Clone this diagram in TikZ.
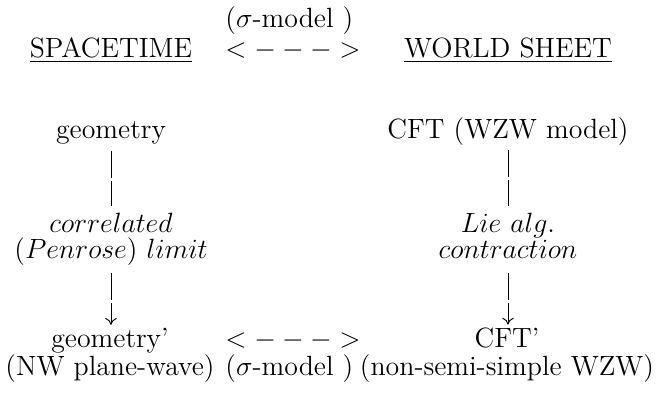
\documentclass[tikz,border=0pt]{standalone}
\usepackage{amsmath}
\usepackage{tikz}
\usetikzlibrary{arrows.meta, positioning, calc}

\begin{document}
\begin{tikzpicture}[x=0.431pt, y=-0.431pt]
\tikzstyle{txt}=[font=\fontsize{12}{14}\selectfont, inner sep=0pt, anchor=base]
\tikzstyle{bar}=[line width=0.4pt, dash pattern=on 11.64pt off 1.29pt]
\tikzstyle{arrow}=[bar, -{To[length=3pt, width=5pt]}, shorten >=1pt]

\useasboundingbox (0,0) rectangle (665,393);

\node[txt, anchor=base west] (sigmaTop) at (225,27) {($\sigma$-model )};
\node[txt] (spacetime) at (111,57) {\underline{SPACETIME}};
\node[txt, anchor=base west] (dualTop) at (225,57) {$<--->$};
\node[txt] (worldsheet) at (508,57) {\underline{WORLD SHEET}};

\node[txt] (geometry) at (111,138) {geometry};
\node[txt] (cft) at (508,138) {CFT (WZW model)};

\node[txt] (correlated) at (111,232) {$correlated$};
\node[txt] (penrose) at (111,258) {$(Penrose)\ limit$};
\node[txt] (lie) at (508,232) {$Lie\ alg.$};
\node[txt] (contraction) at (508,258) {$contraction$};

\node[txt] (geometryP) at (110,347) {geometry'};
\node[txt, anchor=base west] (dualBot) at (225,347) {$<--->$};
\node[txt] (cftP) at (507,347) {CFT'};
\node[txt] (planewave) at (110,375) {(NW plane-wave)};
\node[txt, anchor=base west] (sigmaBot) at (225,375) {($\sigma$-model )};
\node[txt] (nonsemi) at (507,375) {(non-semi-simple WZW)};

\draw[bar, shorten <=2.85pt, shorten >=2.46pt] (geometry.south) -- (geometry.south |- correlated.north);
\draw[arrow, shorten <=3.45pt] (penrose.south -| geometry) -- (geometryP.north -| geometry);
\draw[bar, shorten <=2.15pt, shorten >=2.46pt] (cft.south -| lie) -- (lie.north);
\draw[arrow, shorten <=6.47pt] (contraction.south -| lie) -- (cftP.north -| lie);

\end{tikzpicture}
\end{document}
